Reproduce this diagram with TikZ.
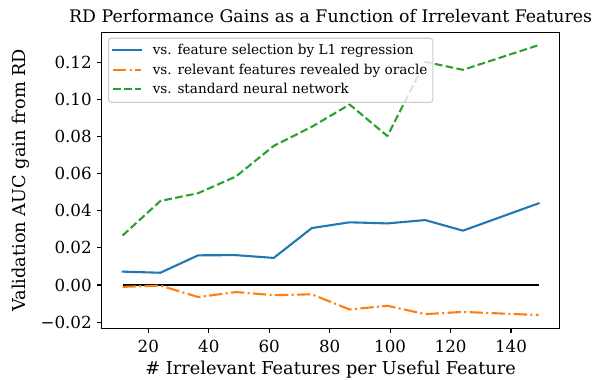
\documentclass[tikz,border=0pt]{standalone}
\usepackage{fontspec}
\setmainfont{DejaVu Serif}
\definecolor{tabblue}{HTML}{1F77B4}
\definecolor{taborange}{HTML}{FF7F0E}
\definecolor{tabgreen}{HTML}{2CA02C}
\definecolor{frameedge}{HTML}{CCCCCC}
\tikzset{
  l1line/.style={tabblue, line width=1.5625pt, line join=round, line cap=rect},
  oracleline/.style={taborange, line width=1.5625pt, line join=round, dash pattern=on 10pt off 2.5pt on 1.56pt off 2.5pt},
  nnline/.style={tabgreen, line width=1.5625pt, line join=round, dash pattern=on 5.78pt off 2.5pt},
  ticklab/.style={inner sep=0pt, font=\fontsize{12.5}{15}\selectfont},
  axlab/.style={inner sep=0pt, anchor=base, font=\fontsize{13.3}{16}\selectfont},
  leglab/.style={inner sep=0pt, anchor=base west, font=\fontsize{10.2}{12}\selectfont},
}
\begin{document}
\begin{tikzpicture}[x=0.75pt,y=-0.75pt]
\useasboundingbox[fill=white] (0,0) rectangle (611,379);
\node[axlab, font=\fontsize{13}{16}\selectfont] (title) at (330.6,22.7) {RD Performance Gains as a Function of Irrelevant Features};
\node[axlab] (xlabel) at (330.6,374.5) {\# Irrelevant Features per Useful Feature};
\node[axlab, rotate=90] (ylabel) at (26,180.3) {Validation AUC gain from RD};
\begin{scope}[shift={(87.85,285)}, x=2.2669pt, y=1391.25pt]
\draw[black, line width=1.5625pt] (11.5,0) -- (149.1,0);
\draw[l1line] (11.5,0.0072) -- (24.0,0.0066) -- (36.5,0.0160) -- (49.0,0.0161) -- (61.5,0.0146) -- (74.1,0.0307) -- (86.6,0.0338) -- (99.1,0.0332) -- (111.6,0.0350) -- (124.1,0.0293) -- (149.1,0.0440);
\draw[oracleline] (11.5,-0.0010) -- (24.0,-0.0003) -- (36.5,-0.0065) -- (49.0,-0.0038) -- (61.5,-0.0055) -- (74.1,-0.0050) -- (86.6,-0.0132) -- (99.1,-0.0112) -- (111.6,-0.0157) -- (124.1,-0.0145) -- (149.1,-0.0162);
\draw[nnline] (11.5,0.0267) -- (24.0,0.0453) -- (36.5,0.0495) -- (49.0,0.0585) -- (61.5,0.0750) -- (74.1,0.0853) -- (86.6,0.0973) -- (99.1,0.0803) -- (111.6,0.1203) -- (124.1,0.1160) -- (149.1,0.1293);
\foreach \x in {20,40,...,140} {
\draw[line width=0.83pt] (\x,-0.02334) -- ++(0pt,-3.65pt);
\node[ticklab, anchor=base] at ([yshift=-18.5pt]\x,-0.02334) {\x};
}
\foreach \y/\t in {-0.02/−0.02,0.00/0.00,0.02/0.02,0.04/0.04,0.06/0.06,0.08/0.08,0.10/0.10,0.12/0.12} {
\draw[line width=0.83pt] (4.58,\y) -- ++(-3.65pt,0pt);
\node[ticklab, anchor=east] at ([xshift=-7.3pt]4.58,\y) {\t};
}
\end{scope}
\draw[line width=0.83pt] (101.7,32.3) rectangle (559.5,328.3);
\draw[frameedge, fill=white, fill opacity=0.8, rounded corners=2.1pt, line width=0.83pt] (108.6,38.3) rectangle (432.8,102.3);
\draw[l1line] (113,50.2) -- (141.4,50.2);
\draw[oracleline] (113,69.8) -- (141.4,69.8);
\draw[nnline] (113,89.4) -- (141.4,89.4);
\node[leglab] (legl1) at (152.5,54.6) {vs. feature selection by L1 regression};
\node[leglab] (legoracle) at (152.5,74.2) {vs. relevant features revealed by oracle};
\node[leglab] (legnn) at (152.5,93.8) {vs. standard neural network};
\end{tikzpicture}
\end{document}
